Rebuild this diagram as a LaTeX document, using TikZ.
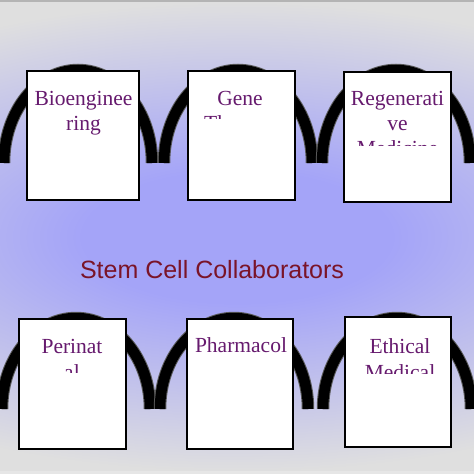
\documentclass[tikz,border=0pt]{standalone}
\usepackage{fontspec}
\setmainfont{Liberation Serif}
\newfontfamily\titlefont{Liberation Sans}
\definecolor{bgblue}{HTML}{A4A4F8}
\definecolor{bggray}{HTML}{DFDFDF}
\definecolor{topgray}{HTML}{B4B4B4}
\definecolor{botgray}{HTML}{E6E6E6}
\definecolor{txtpurple}{HTML}{661A6E}
\definecolor{titlered}{HTML}{7A1428}
\pgfdeclareradialshading{bgshade}{\pgfpoint{0bp}{0bp}}{color(0bp)=(bgblue); color(7bp)=(bgblue); color(25bp)=(bggray); color(50bp)=(bggray)}
\tikzset{
  archedge/.style={line width=12.5pt, draw=black!65},
  archcore/.style={line width=10.5pt, draw=black},
  card/.style={draw=black, fill=white, line width=1.6pt, inner sep=0pt},
  lbl/.style={text=txtpurple, font=\fontsize{21.5}{25}\selectfont, inner sep=0pt, anchor=base},
  title/.style={text=titlered, font=\titlefont\fontsize{25}{30}\selectfont, inner sep=0pt, anchor=base}
}
\begin{document}
\begin{tikzpicture}[x=1pt, y=-1pt]
\useasboundingbox (0,0) rectangle (474,474);
% background
\begin{scope}
  \clip (0,0) rectangle (474,474);
  \fill[bggray] (0,0) rectangle (474,474);
  \shade[shading=bgshade] (-313,2) rectangle (787,472);
\end{scope}
\fill[topgray] (0,0) rectangle (474,2);
\fill[botgray] (0,471) rectangle (474,474);
% arches, top row
\foreach \cx in {78,238,396} {
  \draw[archedge] ({\cx-74},163) arc[start angle=180, end angle=0, x radius=74pt, y radius=93pt];
  \draw[archcore] ({\cx-74},163) arc[start angle=180, end angle=0, x radius=74pt, y radius=93pt];
}
% arches, bottom row
\foreach \cx in {76,234,397} {
  \draw[archedge] ({\cx-74},409) arc[start angle=180, end angle=0, x radius=74pt, y radius=91pt];
  \draw[archcore] ({\cx-74},409) arc[start angle=180, end angle=0, x radius=74pt, y radius=91pt];
}
% cards
\node[card, minimum width=112pt, minimum height=129pt] (b1) at (83,135.5) {};
\node[card, minimum width=107pt, minimum height=129pt] (b2) at (241.5,135.5) {};
\node[card, minimum width=107pt, minimum height=130pt] (b3) at (397.5,137) {};
\node[card, minimum width=107pt, minimum height=130pt] (b4) at (72.5,384) {};
\node[card, minimum width=106pt, minimum height=130pt] (b5) at (240,384) {};
\node[card, minimum width=106pt, minimum height=130pt] (b6) at (398,382) {};
% texts
\begin{scope}
  \clip (28,72) rectangle (138,199);
  \node[lbl] (t1a) at (83.5,105) {Bioenginee};
  \node[lbl] (t1b) at (83.5,130) {ring};
\end{scope}
\begin{scope}
  \clip (189,72) rectangle (294,118.5);
  \node[lbl] (t2a) at (240,105) {Gene};
  \node[lbl] (t2b) at (240,130) {Therapy};
\end{scope}
\begin{scope}
  \clip (345,73) rectangle (450,145);
  \node[lbl] (t3a) at (397.5,105) {Regenerati};
  \node[lbl] (t3b) at (397.5,130) {ve};
  \node[lbl] (t3c) at (397.5,155) {Medicine};
\end{scope}
\begin{scope}
  \clip (20,320) rectangle (125,372);
  \node[lbl] (t4a) at (72,353) {Perinat};
  \node[lbl] (t4b) at (72,379) {al};
\end{scope}
\begin{scope}
  \clip (188,320) rectangle (292,353.5);
  \node[lbl] (t5a) at (241,352) {Pharmacol};
  \node[lbl] (t5b) at (241,377) {ogy};
\end{scope}
\begin{scope}
  \clip (346,318) rectangle (450,373);
  \node[lbl] (t6a) at (400,353) {Ethical};
  \node[lbl] (t6b) at (400,379) {Medical};
\end{scope}
% title
\node[title] (ttl) at (212,278) {Stem Cell Collaborators};
\end{tikzpicture}
\end{document}
